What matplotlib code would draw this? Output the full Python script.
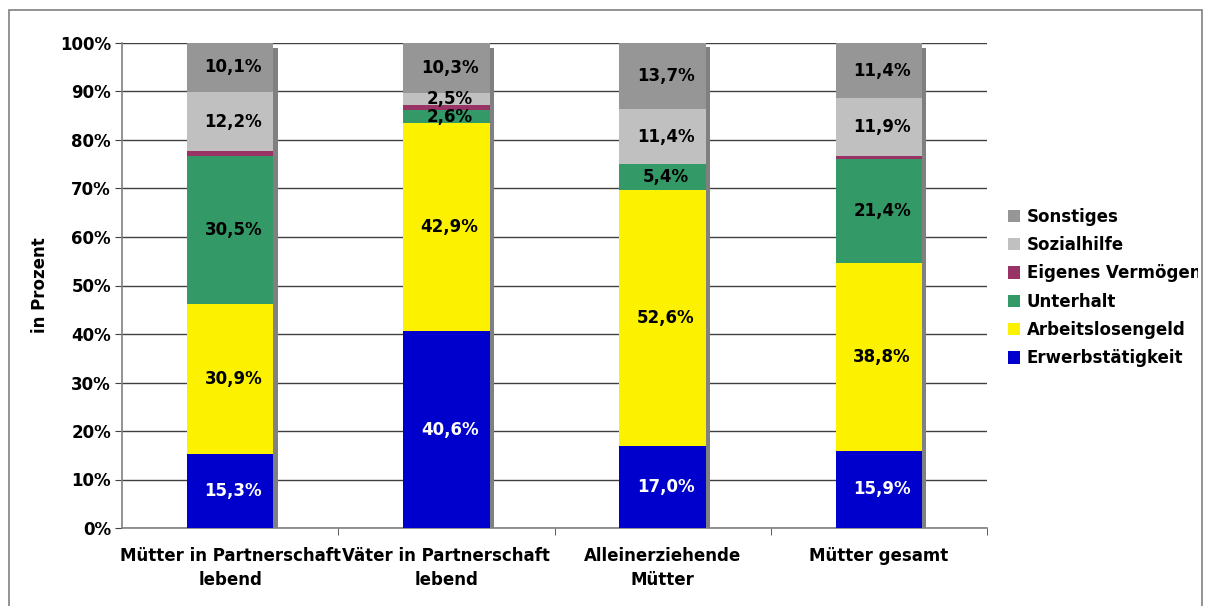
import matplotlib
matplotlib.use("Agg")
import matplotlib.pyplot as plt
from matplotlib.patches import Rectangle, Patch
import numpy as np

plt.rcParams["font.family"] = ["DejaVu Sans"]
plt.rcParams["font.weight"] = "bold"

# Daten (Anteile in Prozent)
categories = ["Mütter in Partnerschaft\nlebend", "Väter in Partnerschaft\nlebend",
              "Alleinerziehende\nMütter", "Mütter gesamt"]
series = ["Erwerbstätigkeit", "Arbeitslosengeld", "Unterhalt",
          "Eigenes Vermögen", "Sozialhilfe", "Sonstiges"]
erwerb = [15.3, 40.6, 17.0, 15.9]
alg = [30.9, 42.9, 52.6, 38.8]
unterhalt = [30.5, 2.6, 5.4, 21.4]
vermoegen = [1.0, 1.1, 0.0, 0.6]
sozialhilfe = [12.2, 2.5, 11.4, 11.9]
sonstiges = [10.1, 10.3, 13.7, 11.4]
values = [erwerb, alg, unterhalt, vermoegen, sozialhilfe, sonstiges]
colors = ["#0000CC", "#FCF200", "#339966", "#993366", "#C0C0C0", "#969696"]
label_colors = ["white", "black", "black", None, "black", "black"]

W, H = 1206, 606
fig = plt.figure(figsize=(W / 100, H / 100), dpi=100)
ax = fig.add_axes([122 / W, 1 - 528 / H, (987 - 122) / W, (528 - 43) / H])

x = np.arange(len(categories))
width = 0.40
fs = 12

# Schatten hinter den Balken
totals = np.sum(values, axis=0)
ax.bar(x + 0.02, totals - 1.0, width, color="#808080", zorder=2)

bottom = np.zeros(len(categories))
for vals, col, lc in zip(values, colors, label_colors):
    vals = np.array(vals)
    ax.bar(x, vals, width, bottom=bottom, color=col, zorder=3)
    if lc is not None:
        for xi, b, v in zip(x, bottom, vals):
            ax.text(xi + 0.015, b + v / 2, f"{v:.1f}%".replace(".", ","),
                    ha="center", va="center", color=lc, fontsize=fs,
                    fontweight="bold", zorder=4)
    bottom += vals

ax.set_xlim(-0.5, len(categories) - 0.5)
ax.set_ylim(0, 100)
ax.set_yticks(np.arange(0, 101, 10))
ax.set_yticklabels([f"{v}%" for v in range(0, 101, 10)], fontsize=fs, fontweight="bold")
ax.set_xticks(x)
ax.set_xticklabels(categories, fontsize=fs, fontweight="bold", linespacing=1.4)
ax.set_xticks(np.arange(0.5, len(categories), 1), minor=True)
ax.tick_params(axis="x", which="major", length=0, pad=14)
ax.tick_params(axis="x", which="minor", length=5, color="#404040")
ax.tick_params(axis="y", length=5, color="#404040", pad=3)
ax.yaxis.grid(True, color="#404040", linewidth=1, zorder=1)
ax.set_axisbelow(True)
for s in ["top", "right"]:
    ax.spines[s].set_visible(False)
for s in ["left", "bottom"]:
    ax.spines[s].set_color("#808080")
    ax.spines[s].set_linewidth(1.2)
ax.set_ylabel("in Prozent", fontsize=fs, fontweight="bold", labelpad=8)

# Legende
handles = [Patch(facecolor=c, edgecolor="none") for c in colors][::-1]
leg = fig.legend(handles, series[::-1], loc="upper left",
                 bbox_to_anchor=(1001 / W, 1 - 201 / H), frameon=False,
                 fontsize=fs, handlelength=0.75, handleheight=0.75,
                 handletextpad=0.4, labelspacing=0.62, borderaxespad=0)
clip = Rectangle((0, 0), 1198 / W, 1, transform=fig.transFigure, visible=False)
fig.add_artist(clip)
for t in leg.get_texts():
    t.set_fontweight("bold")
    t.set_clip_path(clip)

# Rahmen um die Grafik
frame = Rectangle((9 / W, -0.1), (1202 - 9) / W, 1.1 - 10 / H, transform=fig.transFigure,
                  fill=False, edgecolor="#808080", linewidth=1.2)
fig.add_artist(frame)

fig.savefig("out.png", dpi=100, facecolor="white")
